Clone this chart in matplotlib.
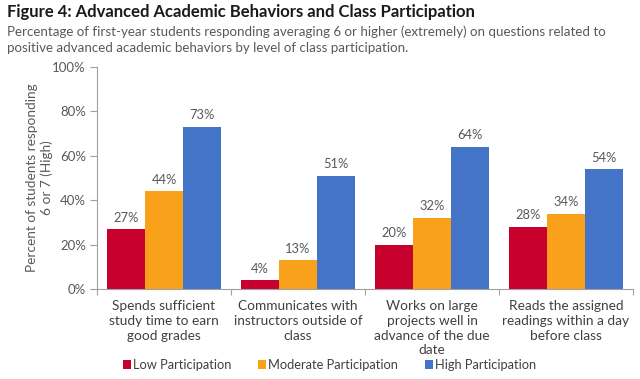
import matplotlib
matplotlib.use("Agg")
import matplotlib.pyplot as plt
import numpy as np

categories = ["Spends sufficient\nstudy time to earn\ngood grades",
              "Communicates with\ninstructors outside of\nclass",
              "Works on large\nprojects well in\nadvance of the due\ndate",
              "Reads the assigned\nreadings within a day\nbefore class"]
series_names = ["Low Participation", "Moderate Participation", "High Participation"]
low = [27, 4, 20, 28]
moderate = [44, 13, 32, 34]
high = [73, 51, 64, 54]
yticks = [0, 20, 40, 60, 80, 100]
colors = ["#C8002D", "#F9A11B", "#4374C7"]

plt.rcParams['font.family'] = ['Lato', 'DejaVu Sans']
fig = plt.figure(figsize=(6.4, 3.79), dpi=100)
ax = fig.add_axes([97/640, 1-289/379, (633-97)/640, (289-67)/379])

x = np.arange(len(categories))
w = 0.284
gray = "#595959"
for i, (vals, name, c) in enumerate(zip([low, moderate, high], series_names, colors)):
    bars = ax.bar(x + (i-1)*w, vals, width=w, color=c, label=name)
    for b, v in zip(bars, vals):
        ax.annotate(f"{v}%", (b.get_x()+b.get_width()/2, v), xytext=(0, 4),
                    textcoords="offset points", ha="center", va="bottom",
                    fontsize=9.3, color=gray)

ax.set_xlim(-0.5, len(categories)-0.5)
ax.set_ylim(0, 100)
ax.set_yticks(yticks)
ax.set_yticklabels([f"{t}%" for t in yticks], fontsize=9.5, color=gray)
ax.set_xticks(np.arange(len(categories)+1)-0.5)
ax.set_xticklabels([])
ax.set_xticks(x, minor=True)
ax.set_xticklabels(categories, minor=True, fontsize=9.8, color="#404040", linespacing=1.27)
ax.tick_params(axis='x', which='minor', length=0, pad=8)
ax.tick_params(axis='x', which='major', length=4, color="#A0A0A0")
ax.tick_params(axis='y', length=5, color="#A0A0A0", pad=3)
for s in ["top", "right"]:
    ax.spines[s].set_visible(False)
for s in ["left", "bottom"]:
    ax.spines[s].set_color("#A0A0A0")
ax.set_ylabel("Percent of students responding\n6 or 7 (High)", fontsize=9.8, color=gray)
ax.yaxis.set_label_coords((53-97)/536, 0.5)

fig.text(7/640, 1-12/379, "Figure 4: Advanced Academic Behaviors and Class Participation",
         fontsize=12, fontweight="bold", color="#1a1a1a", va="center", ha="left")
fig.text(7/640, 1-31.5/379, "Percentage of first-year students responding averaging 6 or higher (extremely) on questions related to",
         fontsize=9.6, color=gray, va="center", ha="left")
fig.text(7/640, 1-48/379, "positive advanced academic behaviors by level of class participation.",
         fontsize=9.6, color=gray, va="center", ha="left")

fig.legend(loc="center left", bbox_to_anchor=(123/640, 1-365/379), ncol=3, frameon=False,
           fontsize=9.25, handlelength=0.62, handleheight=0.62, handletextpad=0.15,
           columnspacing=2.1, borderpad=0, borderaxespad=0, labelcolor="#404040")

fig.savefig("out.png", dpi=100)
